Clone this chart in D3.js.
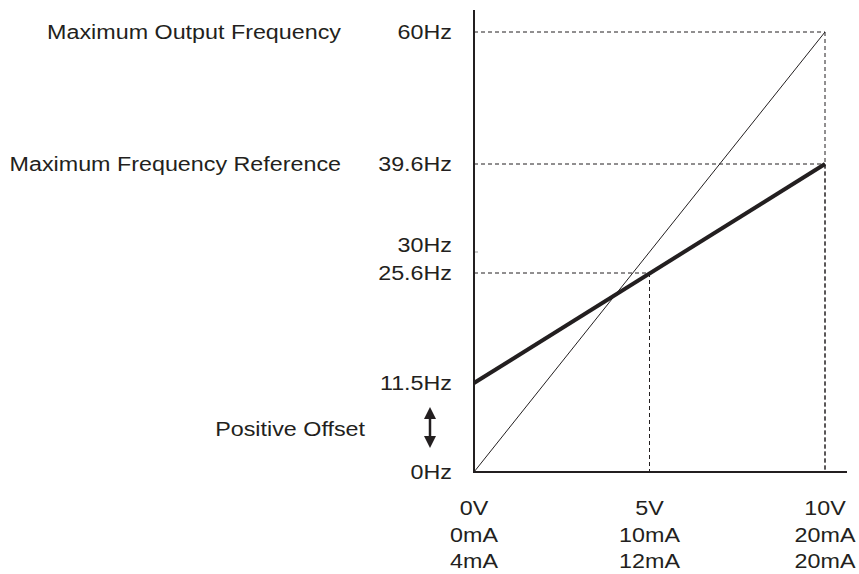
<!DOCTYPE html>
<html>
<head>
<meta charset="utf-8">
<script src="https://cdn.jsdelivr.net/npm/d3@7"></script>
<style>
    body { margin: 0; background: #fff; }
    svg text { font-family: "Liberation Sans", Arial, sans-serif; fill: #231f20; }
</style>
</head>
<body>
<svg width="859" height="574"></svg>
<script>
// frequency ticks on the vertical axis (schematic, not to scale)
var freqTicks = [0, 11.5, 25.6, 30, 39.6, 60];
var freqLabels = ["0Hz", "11.5Hz", "25.6Hz", "30Hz", "39.6Hz", "60Hz"];
// input ticks on the horizontal axis
var inputTicks = [0, 5, 10];
var voltLabels = ["0V", "5V", "10V"];
var currentLabels = ["0mA", "10mA", "20mA"];
var offsetCurrentLabels = ["4mA", "12mA", "20mA"];
// lines
var outputLine = [[0, 0], [10, 60]];
var referenceLine = [[0, 11.5], [10, 39.6]];
// dashed guides: [input, freq]
var guides = [[10, 60], [10, 39.6], [5, 25.6]];

var svg = d3.select("svg");
var x = d3.scaleLinear().domain([0, 10]).range([474, 825]);
var y = d3.scaleLinear()
    .domain([0, 11.5, 25.6, 30, 39.6, 60])
    .range([472, 383, 273, 252, 164, 32]);

var SX = 1.11;
function label(px, py, str, anchor) {
    svg.append("text")
        .attr("transform", "translate(" + px + "," + py + ") scale(" + SX + ",1)")
        .attr("text-anchor", anchor || "start")
        .attr("font-size", "21px")
        .text(str);
}

// dashed guides
guides.forEach(function(g) {
    svg.append("line")
        .attr("x1", x(0)).attr("x2", x(g[0]))
        .attr("y1", y(g[1])).attr("y2", y(g[1]))
        .attr("stroke", "#231f20").attr("stroke-width", 1)
        .attr("stroke-dasharray", "4,3");
    svg.append("line")
        .attr("x1", x(g[0])).attr("x2", x(g[0]))
        .attr("y1", y(g[1])).attr("y2", y(0))
        .attr("stroke", "#231f20").attr("stroke-width", 1)
        .attr("stroke-dasharray", "4,3");
});

// 30Hz small tick
svg.append("line")
    .attr("x1", x(0)).attr("x2", x(0) + 4)
    .attr("y1", y(30)).attr("y2", y(30))
    .attr("stroke", "#999").attr("stroke-width", 1);

var line = d3.line()
    .x(function(d) { return x(d[0]); })
    .y(function(d) { return y(d[1]); });

svg.append("path")
    .datum(outputLine)
    .attr("d", line)
    .attr("fill", "none")
    .attr("stroke", "#231f20")
    .attr("stroke-width", 1);

svg.append("path")
    .datum(referenceLine)
    .attr("d", line)
    .attr("fill", "none")
    .attr("stroke", "#231f20")
    .attr("stroke-width", 4);

// axes
svg.append("line")
    .attr("x1", x(0)).attr("x2", x(0))
    .attr("y1", 10).attr("y2", y(0) + 1)
    .attr("stroke", "#231f20").attr("stroke-width", 2);
svg.append("line")
    .attr("x1", x(0) - 1).attr("x2", 847)
    .attr("y1", y(0)).attr("y2", y(0))
    .attr("stroke", "#231f20").attr("stroke-width", 2);

// frequency labels
freqTicks.forEach(function(f, i) {
    var off = f === 30 ? -7 : 0;
    label(452, y(f) + 7 + off, freqLabels[i], "end");
});

// input labels
inputTicks.forEach(function(v, i) {
    label(x(v), 515, voltLabels[i], "middle");
    label(x(v), 542, currentLabels[i], "middle");
    label(x(v), 568, offsetCurrentLabels[i], "middle");
});

// side labels
label(341, y(60) + 7, "Maximum Output Frequency", "end");
label(341, y(39.6) + 7, "Maximum Frequency Reference", "end");
label(365, 436, "Positive Offset", "end");

// double arrow for offset
var ax = 430;
svg.append("line")
    .attr("x1", ax).attr("x2", ax)
    .attr("y1", 416).attr("y2", 439)
    .attr("stroke", "#231f20").attr("stroke-width", 2.5);
svg.append("path")
    .attr("d", "M" + ax + ",407 L" + (ax - 6) + ",419 L" + (ax + 6) + ",419 Z")
    .attr("fill", "#231f20");
svg.append("path")
    .attr("d", "M" + ax + ",448 L" + (ax - 6) + ",436 L" + (ax + 6) + ",436 Z")
    .attr("fill", "#231f20");
</script>
</body>
</html>
